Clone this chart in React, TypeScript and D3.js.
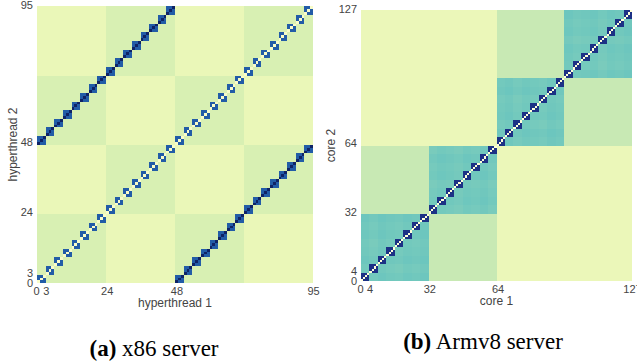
import { useEffect, useRef } from 'react';
import * as d3 from 'd3';

// x86 server: 96 hyperthreads, sibling thread is +48, clusters of 3, sockets alternate every 24
const X86_THREADS = 96;
const X86_SIBLING_OFFSET = 48;
const X86_CLUSTER = 3;
const X86_SOCKET_BLOCK = 24;
const x86Levels = ["self", "sibling", "cluster", "socket", "remote"];
const x86Values = [0.05, 0.97, 0.76, 0.19, 0.125];
const x86Ticks = [0, 3, 24, 48, 95];

// Armv8 server: 128 cores, clusters of 4, dies of 32, sockets of 64
const ARM_CORES = 128;
const ARM_CLUSTER = 4;
const ARM_DIE = 32;
const ARM_SOCKET = 64;
const armLevels = ["self", "cluster", "die", "socket", "remote"];
const armValues = [0.0, 0.9, 0.4, 0.235, 0.12];
// small per-cluster shade offsets seen as a faint checker inside the teal blocks
const armClusterShade = [
  0.01, -0.01, 0.015, 0.0, -0.01, 0.01, 0.0, 0.015,
  -0.01, 0.01, 0.0, -0.015, 0.01, 0.0, 0.015, -0.01,
  0.0, 0.015, -0.01, 0.01, 0.0, -0.01, 0.015, 0.0,
  0.01, -0.01, 0.0, 0.01, -0.015, 0.01, 0.0, 0.015,
];
const armTicks = [0, 4, 32, 64, 127];

const TICK_COLOR = "#444";
const SANS = "'Liberation Sans', Arial, sans-serif";
const SERIF = "'Liberation Serif', 'DejaVu Serif', serif";

function x86Level(i: number, j: number) {
  if (i === j) return 0;
  if (Math.abs(i - j) === X86_SIBLING_OFFSET) return 1;
  const gi = Math.floor(i / X86_CLUSTER);
  const gj = Math.floor(j / X86_CLUSTER);
  const gjs = Math.floor(((j + X86_SIBLING_OFFSET) % X86_THREADS) / X86_CLUSTER);
  if (gi === gj || gi === gjs) return 2;
  const si = Math.floor(i / X86_SOCKET_BLOCK) % 2;
  const sj = Math.floor(j / X86_SOCKET_BLOCK) % 2;
  return si === sj ? 3 : 4;
}

function armLevel(i: number, j: number) {
  if (i === j) return 0;
  if (Math.floor(i / ARM_CLUSTER) === Math.floor(j / ARM_CLUSTER)) return 1;
  if (Math.floor(i / ARM_DIE) === Math.floor(j / ARM_DIE)) return 2;
  if (Math.floor(i / ARM_SOCKET) === Math.floor(j / ARM_SOCKET)) return 3;
  return 4;
}

export default function App() {
  const ref = useRef<SVGSVGElement>(null);

  useEffect(() => {
    if (!ref.current) return;
    const svg = d3.select(ref.current);
    svg.selectAll("*").remove();
    const color = d3.scaleSequential(d3.interpolateYlGnBu).domain([0, 1]);

    const drawPanel = (
      n: number,
      box: { x0: number; x1: number; y0: number; y1: number },
      valueAt: (i: number, j: number) => number,
      ticks: number[],
      xLabel: string,
      yLabel: string,
      yLabelX: number,
    ) => {
      const idx = d3.range(n);
      const xb = d3.scaleBand<number>().domain(idx).range([box.x0, box.x1]);
      const yb = d3.scaleBand<number>().domain(idx).range([box.y1, box.y0]);
      const xl = d3.scaleLinear().domain([0, n - 1]).range([box.x0, box.x1]);
      const yl = d3.scaleLinear().domain([0, n - 1]).range([box.y1, box.y0]);

      const cells = idx.flatMap((i) => idx.map((j) => ({ i, j, v: valueAt(i, j) })));
      const g = svg.append("g").attr("shape-rendering", "crispEdges");
      g.selectAll("rect")
        .data(cells)
        .join("rect")
        .attr("x", (d) => xb(d.i)!)
        .attr("y", (d) => yb(d.j)!)
        .attr("width", xb.bandwidth() + 0.3)
        .attr("height", yb.bandwidth() + 0.3)
        .attr("fill", (d) => color(d.v));

      // tick labels (no tick marks)
      svg.append("g")
        .attr("font-family", SANS)
        .attr("font-size", 11)
        .attr("fill", TICK_COLOR)
        .attr("text-anchor", "middle")
        .selectAll("text")
        .data(ticks)
        .join("text")
        .attr("x", (d) => xl(d) + (d === 0 ? -0.5 : 0.5))
        .attr("y", box.y1 + 12)
        .text((d) => d);

      svg.append("g")
        .attr("font-family", SANS)
        .attr("font-size", 11)
        .attr("fill", TICK_COLOR)
        .attr("text-anchor", "end")
        .selectAll("text")
        .data(ticks)
        .join("text")
        .attr("x", box.x0 - 4)
        .attr("y", (d) => yl(d) + (d === 0 ? 0.5 : -1))
        .attr("dy", "0.35em")
        .text((d) => d);

      svg.append("text")
        .attr("x", (box.x0 + box.x1) / 2)
        .attr("y", box.y1 + 24)
        .attr("text-anchor", "middle")
        .attr("font-family", SANS)
        .attr("font-size", 12)
        .attr("fill", TICK_COLOR)
        .text(xLabel);

      svg.append("text")
        .attr("transform", `translate(${yLabelX},${(box.y0 + box.y1) / 2}) rotate(-90)`)
        .attr("text-anchor", "middle")
        .attr("font-family", SANS)
        .attr("font-size", 12)
        .attr("fill", TICK_COLOR)
        .text(yLabel);
    };

    drawPanel(
      X86_THREADS,
      { x0: 37, x1: 313, y0: 6, y1: 283 },
      (i, j) => x86Values[x86Level(i, j)],
      x86Ticks,
      "hyperthread 1",
      "hyperthread 2",
      17,
    );

    drawPanel(
      ARM_CORES,
      { x0: 361, x1: 632, y0: 10, y1: 281 },
      (i, j) => {
        const lv = armLevel(i, j);
        const base = armValues[lv];
        if (lv === 2) {
          const s = (armClusterShade[Math.floor(i / ARM_CLUSTER)] + armClusterShade[Math.floor(j / ARM_CLUSTER)]) / 2;
          return base + s;
        }
        return base;
      },
      armTicks,
      "core 1",
      "core 2",
      335,
    );

    const captions = [
      { tag: "(a)", text: " x86 server", x: 154, y: 356 },
      { tag: "(b)", text: " Armv8 server", x: 483, y: 349 },
    ];
    captions.forEach((c) => {
      const t = svg.append("text")
        .attr("x", c.x)
        .attr("y", c.y)
        .attr("text-anchor", "middle")
        .attr("font-family", SERIF)
        .attr("font-size", 23)
        .attr("fill", "#000");
      t.append("tspan").attr("font-weight", "bold").text(c.tag);
      t.append("tspan").text(c.text);
    });
  }, []);

  return (
    <div style={{ position: 'fixed', left: 0, top: 0, background: '#fff' }}>
      <svg ref={ref} width={637} height={362} style={{ display: 'block' }} />
    </div>
  );
}

// keep level names referenced for readability
void x86Levels;
void armLevels;
